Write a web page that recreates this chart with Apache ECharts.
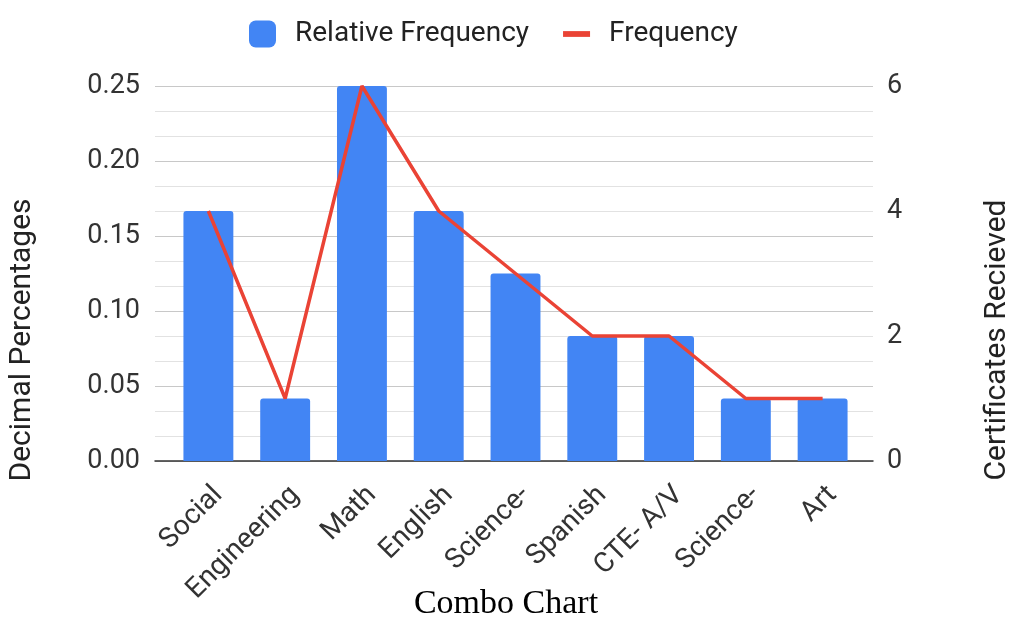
<!DOCTYPE html>
<html>
<head>
<meta charset="utf-8">
<script src="https://cdn.jsdelivr.net/npm/echarts@6/dist/echarts.min.js"></script>
<style>
html,body{margin:0;padding:0;background:#fff;}
#main{width:1012px;height:625px;}
</style>
</head>
<body>
<div id="main"></div>
<script>
const categories = ['Social', 'Engineering', 'Math', 'English', 'Science-', 'Spanish', 'CTE- A/V', 'Science-', 'Art'];
const relativeFrequency = [0.1667, 0.0417, 0.25, 0.1667, 0.125, 0.0833, 0.0833, 0.0417, 0.0417];
const frequency = [4, 1, 6, 4, 3, 2, 2, 1, 1];
const leftTicks = [0, 0.25, 0.05];
const rightTicks = [0, 6, 2];

const FONT = 'Roboto, "Liberation Sans", Arial, sans-serif';
const chart = echarts.init(document.getElementById('main'), null, {renderer: 'canvas'});
chart.setOption({
  animation: false,
  backgroundColor: '#fff',
  title: {
    text: 'Combo Chart', left: 'center', top: 582,
    textStyle: {fontFamily: '"Liberation Serif", "Times New Roman", serif', fontSize: 34, fontWeight: 'normal', color: '#000'}
  },
  legend: {
    left: 244, top: 15, itemGap: 34, itemWidth: 27, itemHeight: 27,
    textStyle: {fontFamily: FONT, fontSize: 28, color: '#222', padding: [0, 0, 0, 14]},
    data: [
      {name: 'Relative Frequency', icon: 'roundRect'},
      {name: 'Frequency', icon: 'path://M0,0L28,0L28,6L0,6Z', itemStyle: {color: '#ea4335'}}
    ]
  },
  grid: [
    {left: 155, right: 139, top: 86, bottom: 164},
    {left: 170, right: 151, top: 86, bottom: 164}
  ],
  xAxis: [
    {gridIndex: 0, type: 'value', min: 0, max: 1, axisLabel: {show: false}, axisTick: {show: false}, splitLine: {show: false},
     axisLine: {show: true, lineStyle: {color: '#333', width: 1.5}}},
    {gridIndex: 1, type: 'category', data: categories, axisLine: {show: false}, axisTick: {show: false},
     axisLabel: {rotate: 45, interval: 0, fontFamily: FONT, fontSize: 28, color: '#333', margin: 20, verticalAlign: 'top'}}
  ],
  yAxis: [
    {gridIndex: 0, type: 'value', min: leftTicks[0], max: leftTicks[1], interval: leftTicks[2],
     axisLine: {show: false}, axisTick: {show: false},
     axisLabel: {fontFamily: FONT, fontSize: 27, color: '#333', margin: 15, formatter: v => v.toFixed(2)},
     splitLine: {show: true, lineStyle: {color: '#c8c8c8', width: 1}},
     minorTick: {show: false, splitNumber: 3},
     minorSplitLine: {show: true, lineStyle: {color: '#e2e2e2', width: 1}}},
    {gridIndex: 0, type: 'value', position: 'right', min: rightTicks[0], max: rightTicks[1], interval: rightTicks[2],
     axisLine: {show: false}, axisTick: {show: false}, splitLine: {show: false},
     axisLabel: {fontFamily: FONT, fontSize: 27, color: '#333', margin: 14}},
    {gridIndex: 1, type: 'value', min: leftTicks[0], max: leftTicks[1], show: false},
    {gridIndex: 1, type: 'value', min: rightTicks[0], max: rightTicks[1], show: false}
  ],
  graphic: [
    {type: 'text', x: 22, y: 340, rotation: Math.PI / 2,
     style: {text: 'Decimal Percentages', font: '30px ' + FONT, fill: '#222', align: 'center', verticalAlign: 'middle'}},
    {type: 'text', x: 997, y: 340, rotation: Math.PI / 2,
     style: {text: 'Certificates Recieved', font: '30px ' + FONT, fill: '#222', align: 'center', verticalAlign: 'middle'}}
  ],
  series: [
    {name: 'Relative Frequency', type: 'bar', xAxisIndex: 1, yAxisIndex: 2, data: relativeFrequency,
     barWidth: '65%', itemStyle: {color: '#4285f4', borderRadius: [3, 3, 0, 0]}},
    {name: 'Frequency', type: 'line', xAxisIndex: 1, yAxisIndex: 3, data: frequency,
     symbol: 'none', lineStyle: {color: '#ea4335', width: 3.5}, itemStyle: {color: '#ea4335'}}
  ]
});
</script>
</body>
</html>
